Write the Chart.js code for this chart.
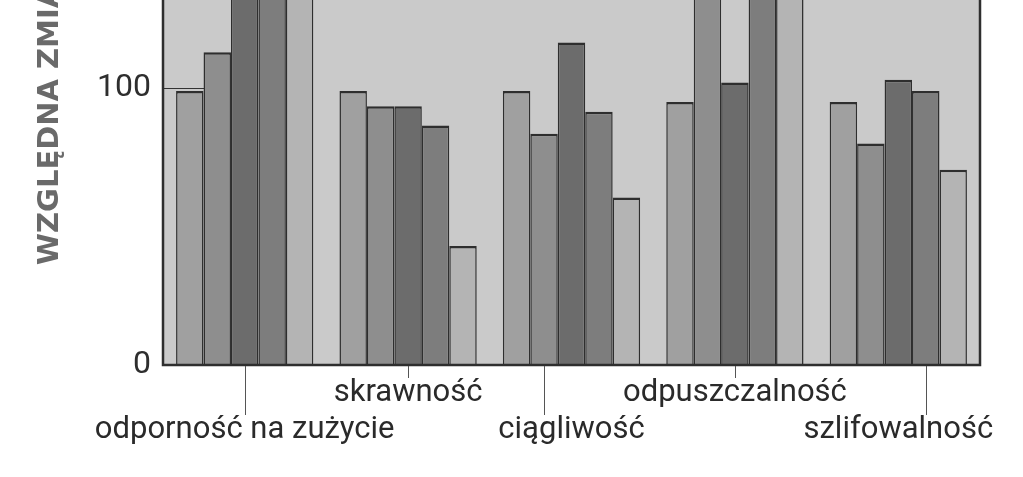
<!DOCTYPE html>
<html>
<head>
<meta charset="utf-8">
<script src="https://cdn.jsdelivr.net/npm/chart.js@4.4.1/dist/chart.umd.min.js"></script>
<style>
  html, body { margin: 0; padding: 0; background: #ffffff; overflow: hidden; width: 1023px; height: 477px; }
  #wrap { position: absolute; left: 0; top: -175px; width: 1023px; height: 652px; }
</style>
</head>
<body>
<div id="wrap"><canvas id="c"></canvas></div>
<script>
// ---- data ----
const categories = [
  'odporność na zużycie',
  'skrawność',
  'ciągliwość',
  'odpuszczalność',
  'szlifowalność'
];
const series1 = [99, 99, 99, 95, 95];
const series2 = [113, 93.5, 83.5, 150, 80];
const series3 = [150, 93.5, 116.5, 102, 103];
const series4 = [150, 86.5, 91.5, 150, 99];
const series5 = [150, 43, 60.5, 150, 70.5];
const yTicks = [0, 100];
const yTitle = 'WZGLĘDNA ZMIANA';

// which bar of each group carries the category tick line
const tickBar = [2, 2, 1, 2, 3];

const fills = ['#a0a0a0', '#8e8e8e', '#6c6c6c', '#7d7d7d', '#b4b4b4'];
const seriesList = [series1, series2, series3, series4, series5];

const bgPlugin = {
  id: 'bg',
  beforeDraw(chart) {
    const {ctx, chartArea: a} = chart;
    ctx.save();
    ctx.fillStyle = '#cacaca';
    ctx.fillRect(a.left, a.top, a.right - a.left, a.bottom - a.top);
    // short mark at 100
    const y = chart.scales.y.getPixelForValue(100);
    ctx.strokeStyle = '#333333';
    ctx.lineWidth = 1;
    ctx.beginPath();
    ctx.moveTo(a.left, Math.round(y) + 0.5);
    ctx.lineTo(a.left + 42, Math.round(y) + 0.5);
    ctx.stroke();
    ctx.restore();
  },
  afterDatasetsDraw(chart) {
    const {ctx, chartArea: a} = chart;
    ctx.save();
    ctx.strokeStyle = '#2e2e2e';
    ctx.lineWidth = 2.5;
    ctx.strokeRect(a.left, a.top, a.right - a.left, a.bottom - a.top);
    // category tick lines
    ctx.strokeStyle = '#555555';
    ctx.lineWidth = 1;
    categories.forEach((c, i) => {
      const bar = chart.getDatasetMeta(tickBar[i]).data[i];
      const x = Math.round(bar.x) + 0.5;
      const len = (i % 2 === 0) ? 50 : 13;
      ctx.beginPath();
      ctx.moveTo(x, a.bottom + 1);
      ctx.lineTo(x, a.bottom + len);
      ctx.stroke();
    });
    ctx.restore();
  }
};

const labels = categories.map((c, i) => (i % 2 === 0) ? ['', c] : c);

new Chart(document.getElementById('c'), {
  type: 'bar',
  data: {
    labels: labels,
    datasets: seriesList.map((s, k) => ({
      data: s,
      backgroundColor: fills[k],
      borderColor: '#2e2e2e',
      borderWidth: {top: 2.5, left: 1.5, right: 1.5, bottom: 0},
      borderSkipped: false,
      barPercentage: 1.0,
      categoryPercentage: 0.84
    }))
  },
  options: {
    responsive: true,
    maintainAspectRatio: false,
    animation: false,
    layout: { padding: { top: 14, right: 43, bottom: 0, left: 0 } },
    plugins: {
      legend: { display: false },
      tooltip: { enabled: false },
      title: { display: false }
    },
    scales: {
      x: {
        grid: { display: false, drawTicks: false },
        border: { display: false },
        ticks: {
          color: '#2a2a2a',
          padding: 10,
          maxRotation: 0,
          autoSkip: false,
          font: { family: 'Roboto, sans-serif', size: 31, lineHeight: 1.19 }
        },
        afterFit(scale) { scale.height = 112; scale.paddingLeft = 0; scale.paddingRight = 0; }
      },
      y: {
        min: 0,
        max: 190,
        grid: { display: false, drawTicks: false },
        border: { display: false },
        afterBuildTicks(scale) { scale.ticks = yTicks.map(v => ({ value: v })); },
        ticks: {
          color: '#2e2e2e',
          padding: 12,
          font: { family: 'Roboto, sans-serif', size: 32 }
        },
        title: {
          display: true,
          text: yTitle,
          color: '#6a6a6a',
          padding: { top: 33, bottom: 0 },
          font: { family: '"DejaVu Sans", sans-serif', size: 29, weight: 'bold' }
        },
        afterFit(scale) { scale.width = 163; scale.paddingTop = 0; scale.paddingBottom = 0; }
      }
    }
  },
  plugins: [bgPlugin]
});
</script>
</body>
</html>
